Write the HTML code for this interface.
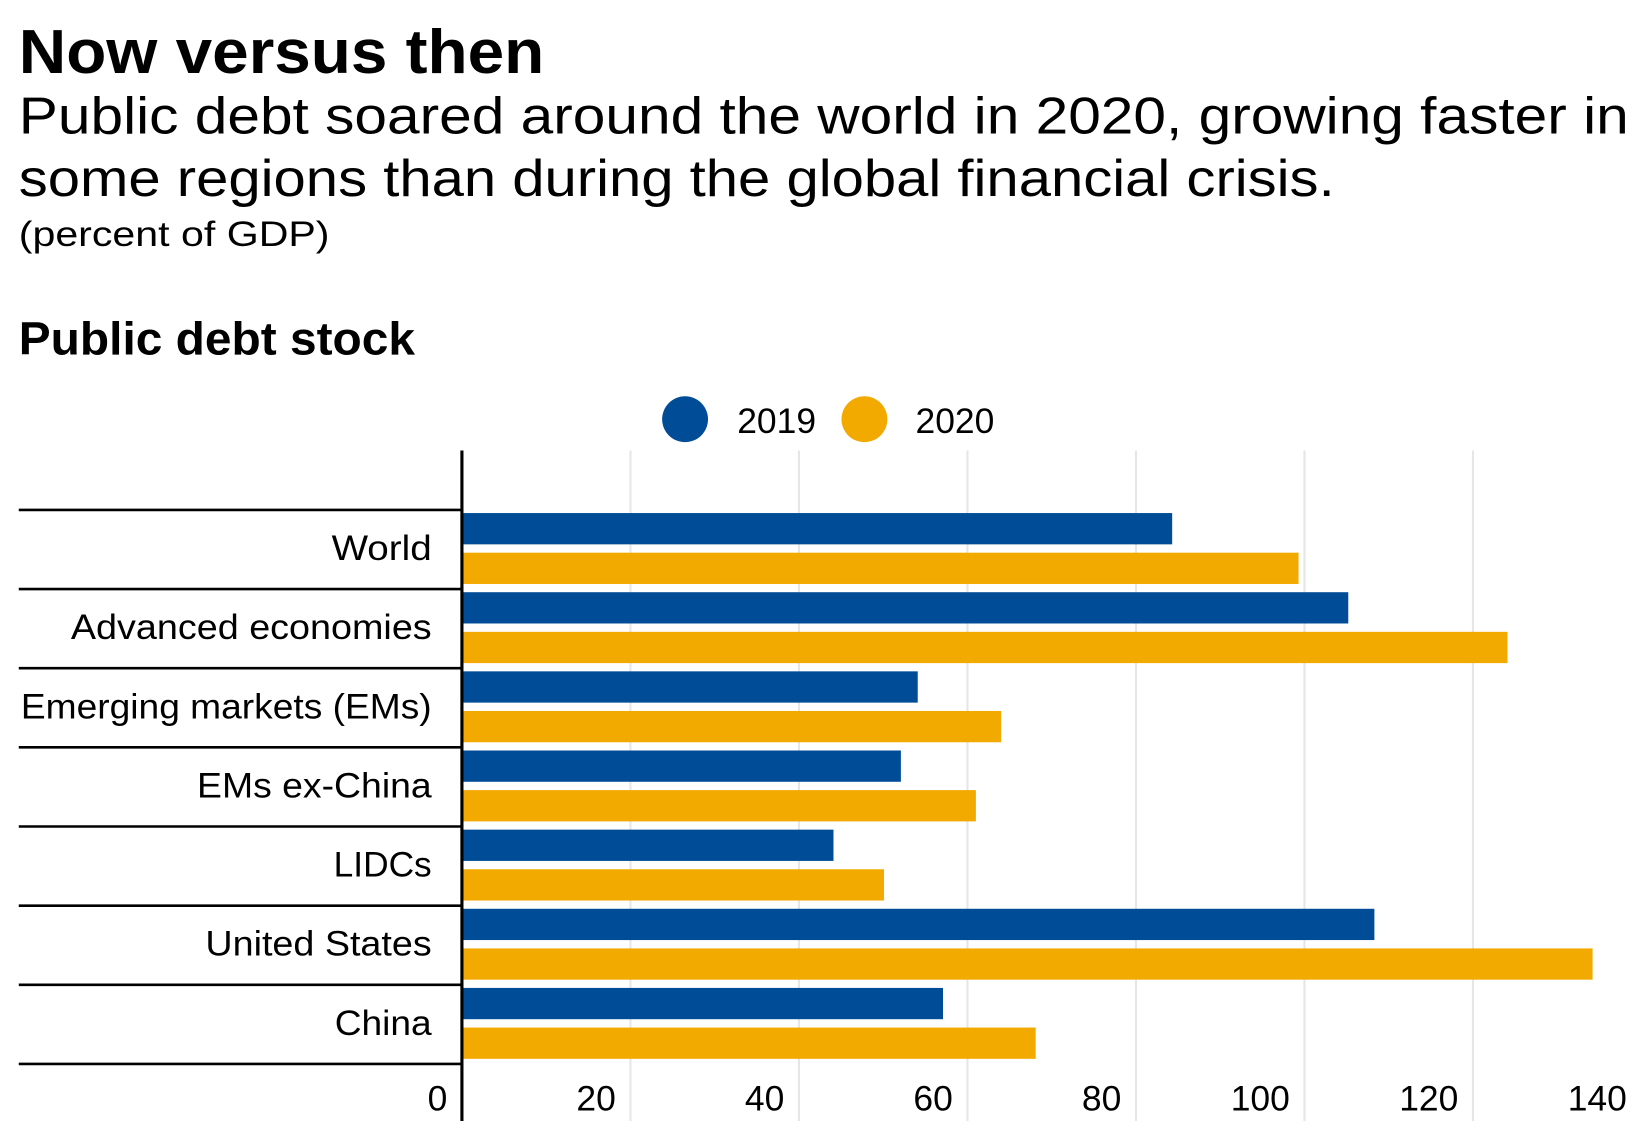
<!DOCTYPE html>
<html><head><meta charset="utf-8"><style>
html,body{margin:0;padding:0;background:#fff}
svg{display:block;font-family:"Liberation Sans",sans-serif}
</style></head><body>
<svg width="1635" height="1145" viewBox="0 0 1568 1098" xmlns="http://www.w3.org/2000/svg">
<text x="18" y="70" font-size="60" font-weight="bold" fill="#000" textLength="504" lengthAdjust="spacingAndGlyphs">Now versus then</text>
<text x="18" y="128" font-size="50" fill="#000" textLength="1544" lengthAdjust="spacingAndGlyphs">Public debt soared around the world in 2020, growing faster in</text>
<text x="18" y="188" font-size="50" fill="#000" textLength="1262" lengthAdjust="spacingAndGlyphs">some regions than during the global financial crisis.</text>
<text x="18" y="236" font-size="34" fill="#000" textLength="298" lengthAdjust="spacingAndGlyphs">(percent of GDP)</text>
<text x="18" y="340" font-size="44" font-weight="bold" fill="#000" textLength="380" lengthAdjust="spacingAndGlyphs">Public debt stock</text>
<g>
<circle cx="657" cy="402" r="22" fill="#004C97"/>
<text x="707" y="415" font-size="34">2019</text>
<circle cx="829" cy="402" r="22" fill="#F2A900"/>
<text x="878" y="415" font-size="34">2020</text>
</g>
<g id="plot"></g>
</svg>
<script>
const categories=["World","Advanced economies","Emerging markets (EMs)","EMs ex-China","LIDCs","United States","China"];
const values2019=[84.3,105.2,54.1,52.1,44.1,108.3,57.1];
const values2020=[99.3,124.1,64.0,61.0,50.1,134.2,68.1];
const ticks=[0,20,40,60,80,100,120,140];
const labelWidthsPx=[96,346,394,225,94,217,93];
const NS="http://www.w3.org/2000/svg";
const g=document.getElementById('plot');
const x0=443,pxPer=8.08,rowTop=489,rowH=75.9,yTop=432,yBot=1075;
const xs=v=>x0+v*pxPer;
function el(t,a){const e=document.createElementNS(NS,t);for(const k in a)e.setAttribute(k,a[k]);g.appendChild(e);return e;}
ticks.forEach((t,i)=>{
  if(t>0){const l=el('line',{x1:xs(t),x2:xs(t),y1:yTop,y2:yBot,stroke:'#e6e6e6','stroke-width':2});
  
  }
  const tx=el('text',{x:xs(t)-14,y:1065,'font-size':34,'text-anchor':'end'});
  tx.textContent=t;
  
  
});
for(let i=0;i<=categories.length;i++){
  const y=rowTop+i*rowH;
  const l=el('line',{x1:18,x2:443,y1:y,y2:y,stroke:'#000','stroke-width':2.5});
  
  
}
categories.forEach((c,i)=>{
  const y=rowTop+i*rowH;
  const t=el('text',{x:414,y:y+48,'font-size':34,'text-anchor':'end',textLength:labelWidthsPx[i],lengthAdjust:'spacingAndGlyphs'});
  t.textContent=c;
  
  
  const b1=el('rect',{x:x0,y:y+3,width:values2019[i]*pxPer,height:30,fill:'#004C97'});
  
  
  const b2=el('rect',{x:x0,y:y+41,width:values2020[i]*pxPer,height:30,fill:'#F2A900'});
  
  
});
const ax=el('line',{x1:x0,x2:x0,y1:yTop,y2:yBot,stroke:'#000','stroke-width':3});


</script>
</body></html>
